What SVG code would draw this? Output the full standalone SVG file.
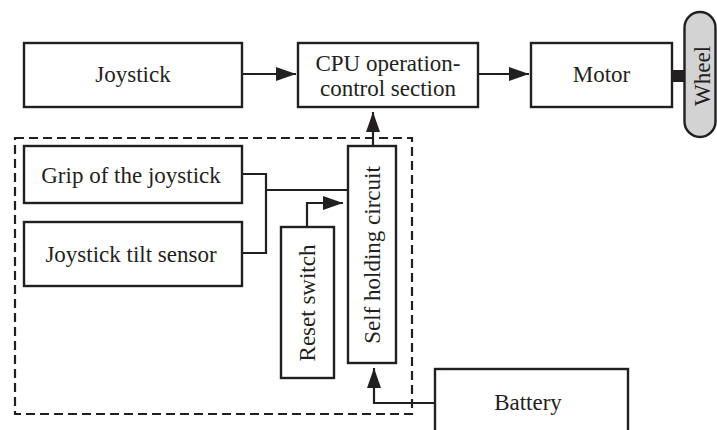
<svg xmlns="http://www.w3.org/2000/svg" width="717" height="430" viewBox="0 0 717 430">
<style>
.box{fill:#fff;stroke:#231f20;stroke-width:2.4}
.t{font-family:"Liberation Serif","Times New Roman",serif;font-size:23px;fill:#231f20;text-anchor:middle}
.ln{fill:none;stroke:#231f20;stroke-width:2.2}
.dash{fill:none;stroke:#231f20;stroke-width:2.2;stroke-dasharray:9 5}
</style>
<defs>
<marker id="ah" viewBox="0 0 20 14" refX="20" refY="7" markerWidth="20" markerHeight="14" markerUnits="userSpaceOnUse" orient="auto">
<path d="M0,0 L20,7 L0,14 Z" fill="#231f20"/>
</marker>
</defs>
<rect class="dash" x="15" y="138" width="397" height="276"/>
<g id="joystick"><rect class="box" x="24" y="43" width="218" height="64"/><text class="t" x="133" y="82">Joystick</text></g>
<g id="cpu"><rect class="box" x="298" y="43" width="180" height="64"/><text class="t" x="388" y="71">CPU operation-</text><text class="t" x="388" y="96">control section</text></g>
<g id="motor"><rect class="box" x="531" y="43" width="141" height="64"/><text class="t" x="601.5" y="82">Motor</text></g>
<g id="wheel"><rect x="672" y="70" width="13" height="12" fill="#231f20"/><rect x="684.5" y="12" width="31" height="125" rx="15.5" fill="#d3d3d3" stroke="#231f20" stroke-width="2.4"/><text class="t" transform="translate(710,76) rotate(-90)">Wheel</text></g>
<g id="grip"><rect class="box" x="24" y="146" width="218" height="57"/><text class="t" x="131" y="183">Grip of the joystick</text></g>
<g id="tilt"><rect class="box" x="24" y="222" width="218" height="64"/><text class="t" x="131" y="262">Joystick tilt sensor</text></g>
<g id="reset"><rect class="box" x="281" y="227" width="53" height="151"/><text class="t" transform="translate(315,303) rotate(-90)">Reset switch</text></g>
<g id="selfholding"><rect class="box" x="348" y="146" width="48" height="217"/><text class="t" transform="translate(380,255) rotate(-90)">Self holding circuit</text></g>
<g id="battery"><rect class="box" x="435" y="369" width="193" height="70"/><text class="t" x="528" y="410">Battery</text></g>
<g id="connectors">
<line class="ln" x1="242" y1="74" x2="296" y2="74" marker-end="url(#ah)"/>
<line class="ln" x1="478" y1="74" x2="529" y2="74" marker-end="url(#ah)"/>
<line class="ln" x1="373" y1="146" x2="373" y2="112" marker-end="url(#ah)"/>
<path class="ln" d="M242,174 H266 V253 H242"/>
<line class="ln" x1="266" y1="190" x2="348" y2="190"/>
<path class="ln" d="M307,227 V203 H343" marker-end="url(#ah)"/>
<path class="ln" d="M435,403 H374 V368" marker-end="url(#ah)"/>
</g>
</svg>
